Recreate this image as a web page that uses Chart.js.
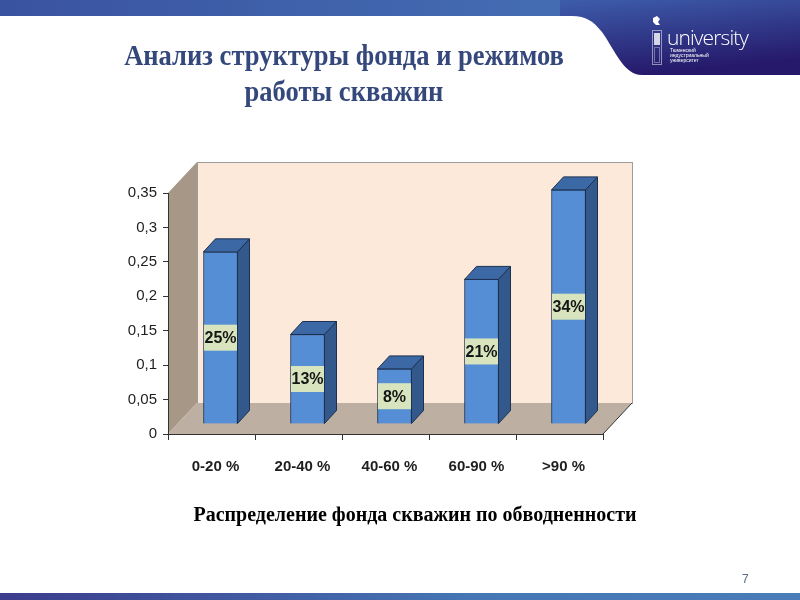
<!DOCTYPE html>
<html>
<head>
<meta charset="utf-8">
<script src="https://cdn.jsdelivr.net/npm/chart.js@4.4.1/dist/chart.umd.min.js"></script>
<style>
  html, body { margin:0; padding:0; background:#fff; }
  #stage { position:relative; width:800px; height:600px; overflow:hidden; background:#fff; }
  #chart { position:absolute; left:0; top:0; }
  .txt { position:absolute; z-index:2; }
  #title { left:0; width:688px; top:37px; text-align:center; font:bold 30px 'Liberation Serif', serif; color:#34487c; line-height:36px; transform:scaleX(0.885); transform-origin:344px 0; }
  #caption { left:0; width:830px; top:503px; text-align:center; font:bold 20px 'Liberation Serif', serif; color:#000; }
  #page { left:742px; top:572px; font:12px 'Liberation Sans', sans-serif; color:#5a6a8a; }
  #uni { left:667px; top:23px; font:300 21px 'Open Sans', sans-serif; color:#fff; letter-spacing:-0.9px; }
  .small { left:670px; font:5px 'Liberation Sans', sans-serif; color:#fff; line-height:5px; }
  #bottombar { position:absolute; left:0; top:593px; width:800px; height:7px; background:linear-gradient(to right,#3b3c8c,#4677b5 60%,#4a7cb8); }
</style>
</head>
<body>
<div id="stage">
  <svg width="800" height="80" style="position:absolute;left:0;top:0">
    <defs>
      <linearGradient id="band" x1="0" x2="1" y1="0" y2="0">
        <stop offset="0" stop-color="#3a53a0"/><stop offset="1" stop-color="#4878bc"/>
      </linearGradient>
      <linearGradient id="corner" x1="0" x2="0.3" y1="0" y2="1">
        <stop offset="0" stop-color="#3d5dab"/><stop offset="1" stop-color="#26196b"/>
      </linearGradient>
    </defs>
    <rect x="0" y="0" width="800" height="16" fill="url(#band)"/>
    <path d="M560 0 H800 V75 H642 C624 75 616 52 602 32 C593 21 586 16 572 16 H560 Z" fill="url(#corner)"/>
    <rect x="652.5" y="30.5" width="9" height="34" fill="none" stroke="#fff" stroke-width="1" stroke-dasharray="1,1"/>
    <rect x="654" y="33" width="6" height="12" fill="#fff" opacity="0.8"/>
    <rect x="654.5" y="47.5" width="5" height="15" fill="none" stroke="#fff" stroke-width="0.7" stroke-dasharray="1,1"/>
    <path d="M653 18 l4 -2 l3 3 l-2 3 l2 3 l-4 0 l-3 -3 z" fill="#fff"/>
  </svg>
  <div class="txt" id="uni">university</div>
  <div class="txt small" style="top:48px">Тюменский</div>
  <div class="txt small" style="top:53px">индустриальный</div>
  <div class="txt small" style="top:58px">университет</div>

  <div class="txt" id="title">Анализ структуры фонда и режимов<br>работы скважин</div>
  <canvas id="chart" width="800" height="600"></canvas>
  <div class="txt" id="caption">Распределение фонда скважин по обводненности</div>
  <div class="txt" id="page">7</div>
  <div id="bottombar"></div>
</div>
<script>
const categories = ['0-20 %', '20-40 %', '40-60 %', '60-90 %', '>90 %'];
const shares = [0.25, 0.13, 0.08, 0.21, 0.34];
const shareLabels = ['25%', '13%', '8%', '21%', '34%'];
const yTickLabels = ['0', '0,05', '0,1', '0,15', '0,2', '0,25', '0,3', '0,35'];

const wallDepth = { dx: 29, dy: -31 };
const barShift = { dx: 9, dy: -10 };
const barDepth = { dx: 12, dy: -13 };

const threeD = {
  id: 'threeD',
  beforeDraw(chart) {
    const { ctx, chartArea: a } = chart;
    const L = a.left, R = a.right, T = a.top, B = a.bottom;
    const dx = wallDepth.dx, dy = wallDepth.dy;
    ctx.save();
    ctx.fillStyle = '#fde9d9';
    ctx.fillRect(L + dx, T + dy, R - L, B - T);
    ctx.strokeStyle = '#9c9c9c';
    ctx.lineWidth = 1;
    ctx.strokeRect(L + dx + 0.5, T + dy + 0.5, R - L, B - T);
    ctx.beginPath();
    ctx.moveTo(L, T); ctx.lineTo(L + dx, T + dy); ctx.lineTo(L + dx, B + dy); ctx.lineTo(L, B);
    ctx.closePath();
    ctx.fillStyle = '#a69787';
    ctx.fill();
    ctx.beginPath();
    ctx.moveTo(L, B); ctx.lineTo(R, B); ctx.lineTo(R + dx, B + dy); ctx.lineTo(L + dx, B + dy);
    ctx.closePath();
    ctx.fillStyle = '#bdafa1';
    ctx.fill();
    ctx.beginPath();
    ctx.moveTo(R, B); ctx.lineTo(R + dx, B + dy);
    ctx.strokeStyle = '#333';
    ctx.stroke();
    ctx.restore();
  },
  beforeDatasetsDraw(chart) {
    chart.ctx.save();
    chart.ctx.translate(barShift.dx, barShift.dy);
  },
  afterDatasetsDraw(chart) {
    const ctx = chart.ctx;
    const meta = chart.getDatasetMeta(0);
    meta.data.forEach((bar, i) => {
      const w = bar.width, x0 = bar.x - w / 2, x1 = bar.x + w / 2;
      const yt = bar.y, yb = bar.base;
      const ddx = barDepth.dx, ddy = barDepth.dy;
      ctx.lineWidth = 1;
      ctx.strokeStyle = '#1c3050';
      ctx.beginPath();
      ctx.moveTo(x1, yt); ctx.lineTo(x1 + ddx, yt + ddy); ctx.lineTo(x1 + ddx, yb + ddy); ctx.lineTo(x1, yb);
      ctx.closePath();
      ctx.fillStyle = '#33598c';
      ctx.fill(); ctx.stroke();
      ctx.beginPath();
      ctx.moveTo(x0, yt); ctx.lineTo(x1, yt); ctx.lineTo(x1 + ddx, yt + ddy); ctx.lineTo(x0 + ddx, yt + ddy);
      ctx.closePath();
      ctx.fillStyle = '#3c68a5';
      ctx.fill(); ctx.stroke();
      const mid = (yt + yb) / 2;
      ctx.fillStyle = '#d8e4be';
      ctx.fillRect(x0 + 0.5, mid - 13, w - 1, 26);
      ctx.fillStyle = '#151515';
      ctx.font = "bold 16px 'Liberation Sans Narrow', 'Liberation Sans', sans-serif";
      ctx.textAlign = 'center';
      ctx.textBaseline = 'middle';
      ctx.fillText(shareLabels[i], bar.x, mid + 1);
    });
    ctx.restore();
  }
};

new Chart(document.getElementById('chart'), {
  type: 'bar',
  data: {
    labels: categories,
    datasets: [{
      data: shares,
      backgroundColor: '#558ed5',
      borderColor: '#1c3050',
      borderWidth: 1,
      barThickness: 34,
      clip: false
    }]
  },
  options: {
    responsive: false,
    animation: false,
    events: [],
    layout: { padding: { left: 128, top: 193, right: 197, bottom: 106 } },
    plugins: { legend: { display: false }, tooltip: { enabled: false } },
    scales: {
      x: {
        grid: { drawOnChartArea: false, drawTicks: true, tickLength: 6, color: '#333', offset: true },
        border: { color: '#333', width: 1 },
        ticks: {
          color: '#1e1e1e',
          font: { family: "'Liberation Sans Narrow', 'Liberation Sans', sans-serif", size: 15, weight: 'bold' },
          padding: 18,
          labelOffset: 4,
          maxRotation: 0
        },
        afterFit(s) { s.height = 60; }
      },
      y: {
        min: 0,
        max: 0.35,
        grid: { drawOnChartArea: false, drawTicks: true, tickLength: 5, color: '#333' },
        border: { color: '#333', width: 1 },
        ticks: {
          stepSize: 0.05,
          color: '#1e1e1e',
          font: { family: "'Liberation Sans Narrow', 'Liberation Sans', sans-serif", size: 15 },
          padding: 6,
          callback: (v, i) => yTickLabels[i]
        },
        afterFit(s) { s.width = 40; }
      }
    }
  },
  plugins: [threeD]
});
</script>
</body>
</html>
